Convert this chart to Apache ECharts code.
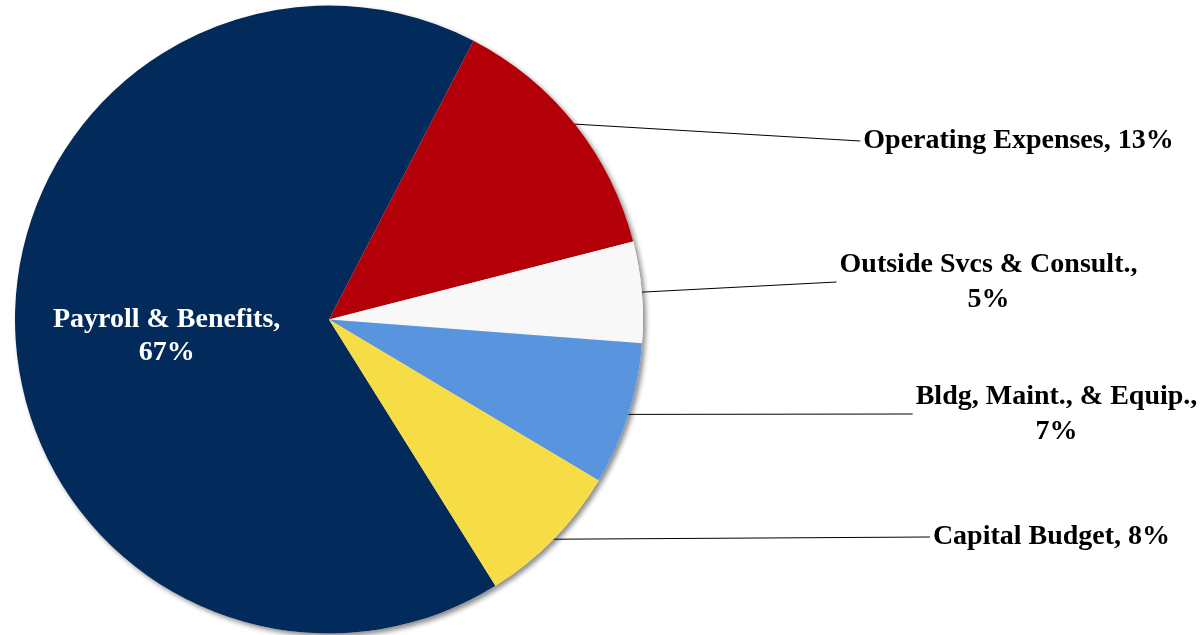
<!DOCTYPE html>
<html>
<head>
<meta charset="utf-8">
<style>
  html, body { margin: 0; padding: 0; background: #fff; }
  #chart { width: 1203px; height: 635px; }
</style>
<script src="https://cdn.jsdelivr.net/npm/echarts@6/dist/echarts.min.js"></script>
</head>
<body>
<div id="chart"></div>
<script>
// budget shares (percent of total)
const categories = ['Payroll & Benefits', 'Operating Expenses', 'Outside Svcs & Consult.', 'Bldg, Maint., & Equip.', 'Capital Budget']
const values = [66.5, 13.4, 5.2, 7.35, 7.55]
const colors = ['#022a5a', '#b30008', '#f8f8f8', '#5995de', '#f7dd45']
// which labels break onto a second line
const wrapLabel = [true, false, true, true, false]

// label block centres, px (the inside label only gets nudged down)
const labelPos = [null, [1017, 141], [987, 282], [1055, 414], [1050, 537]]

const font = "'Liberation Serif', 'Times New Roman', serif"
const center = [329, 319.5]
const radius = 314

const chart = echarts.init(document.getElementById('chart'))

chart.setOption({
  animation: false,
  backgroundColor: '#fff',
  series: [
    {
      // shadow layer underneath
      type: 'pie',
      silent: true,
      center,
      radius,
      startAngle: 302,
      z: 1,
      label: { show: false },
      labelLine: { show: false },
      itemStyle: {
        color: '#fff',
        shadowBlur: 5,
        shadowOffsetX: 3,
        shadowOffsetY: 3,
        shadowColor: 'rgba(0,0,0,0.45)',
      },
      data: categories.map((c, i) => ({ name: c, value: values[i] })),
    },
    {
      type: 'pie',
      center,
      radius,
      startAngle: 302,
      z: 2,
      percentPrecision: 0,
      avoidLabelOverlap: false,
      itemStyle: { borderWidth: 0 },
      label: {
        show: true,
        position: 'outside',
        fontFamily: font,
        fontWeight: 'bold',
        fontSize: 28,
        lineHeight: 35,
        color: '#000',
        align: 'center',
        padding: [0, 0, 0, 3],
        formatter: (p) => p.name + (wrapLabel[p.dataIndex] ? ',\n' : ', ') + p.percent + '%',
      },
      labelLine: {
        show: true,
        length: 10,
        length2: 0,
        lineStyle: { color: '#000', width: 1 },
      },
      labelLayout: (params) => {
        const pos = labelPos[params.dataIndex]
        if (!pos) return { dx: -4, dy: 10 }
        return { x: pos[0], y: pos[1], align: 'center', verticalAlign: 'middle' }
      },
      data: categories.map((c, i) => ({
        name: c,
        value: values[i],
        itemStyle: { color: colors[i] },
        ...(i === 0 ? {
          label: { position: 'inside', color: '#fff', lineHeight: 33 },
          labelLine: { show: false },
        } : {}),
      })),
    },
  ],
})
</script>
</body>
</html>
